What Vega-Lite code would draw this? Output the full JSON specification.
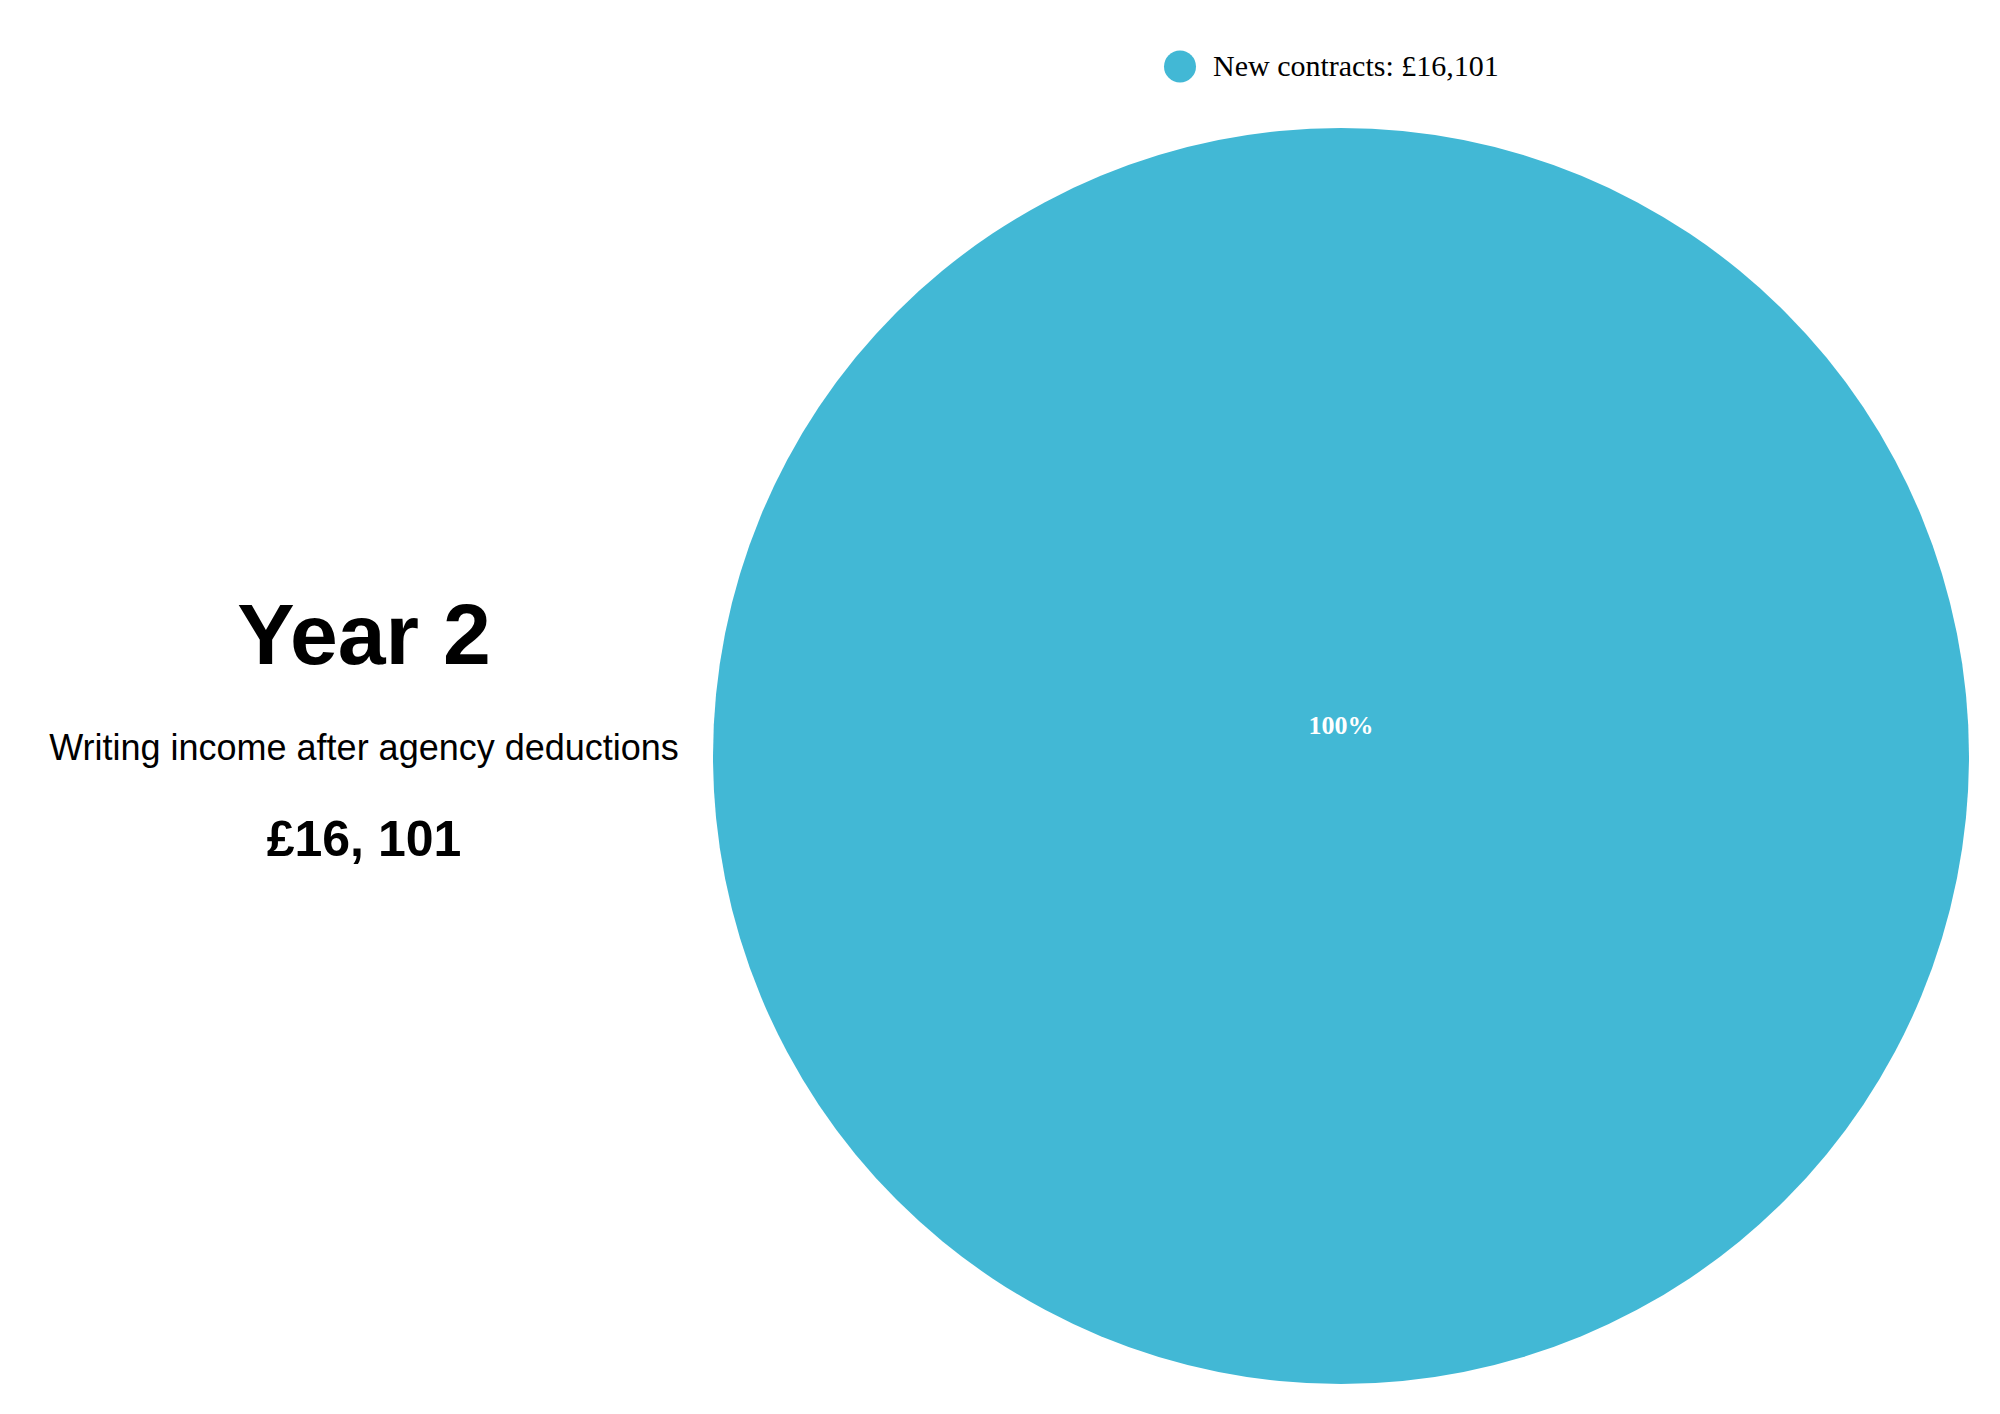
{
  "$schema": "https://vega.github.io/schema/vega-lite/v6.json",
  "background": "white",
  "padding": {"left": 0, "top": 50, "right": 0, "bottom": 0},
  "autosize": {"type": "pad"},
  "spacing": 0,
  "bounds": "flush",
  "center": true,
  "config": {
    "view": {"stroke": null, "fill": "white"}
  },
  "hconcat": [
    {
      "width": 728,
      "height": 288,
      "data": {
        "values": [
          {"role": "heading", "label": "Year 2"},
          {"role": "subheading", "label": "Writing income after agency deductions"},
          {"role": "total", "label": "£16, 101"}
        ]
      },
      "encoding": {
        "y": {
          "field": "role",
          "type": "nominal",
          "axis": null,
          "scale": {"type": "point", "padding": 0.5, "domain": ["heading", "subheading", "total"]}
        },
        "text": {"field": "label"}
      },
      "layer": [
        {
          "transform": [{"filter": "datum.role === 'heading'"}],
          "mark": {"type": "text", "font": "Liberation Sans", "fontWeight": "bold", "fontSize": 86, "baseline": "alphabetic", "align": "center", "color": "#000000", "dy": 3.5}
        },
        {
          "transform": [{"filter": "datum.role === 'subheading'"}],
          "mark": {"type": "text", "font": "Liberation Sans", "fontWeight": "normal", "fontSize": 36, "baseline": "alphabetic", "align": "center", "color": "#000000", "dy": 3.5}
        },
        {
          "transform": [{"filter": "datum.role === 'total'"}],
          "mark": {"type": "text", "font": "Liberation Sans", "fontWeight": "bold", "fontSize": 50, "baseline": "alphabetic", "align": "center", "color": "#000000", "dy": 3.5}
        }
      ]
    },
    {
      "width": 1226,
      "height": 1256,
      "data": {
        "values": [
          {"category": "New contracts: £16,101", "value": 16101, "share": "100%"}
        ]
      },
      "layer": [
        {
          "mark": {"type": "arc", "outerRadius": 628, "stroke": null},
          "encoding": {
            "theta": {"field": "value", "type": "quantitative", "stack": true},
            "color": {
              "field": "category",
              "type": "nominal",
              "scale": {"range": ["#42B8D5"]},
              "legend": {
                "title": null,
                "orient": "none",
                "legendX": 1164,
                "legendY": -77.5,
                "padding": 0,
                "symbolType": "circle",
                "symbolSize": 1024,
                "symbolStrokeWidth": 0,
                "labelFont": "Liberation Serif",
                "labelFontSize": 30,
                "labelColor": "#000000",
                "labelOffset": 17,
                "labelLimit": 1000
              }
            }
          }
        },
        {
          "mark": {"type": "text", "font": "Liberation Serif", "fontSize": 26, "fontWeight": "bold", "color": "#ffffff", "baseline": "middle", "align": "center", "dy": -30.5},
          "encoding": {
            "text": {"field": "share"}
          }
        }
      ]
    }
  ]
}
